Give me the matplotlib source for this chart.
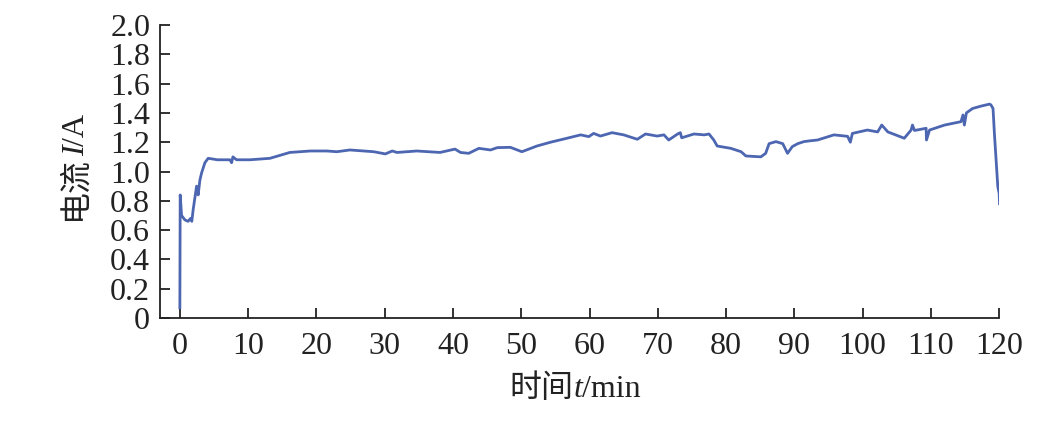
import numpy as np
import matplotlib
matplotlib.use('Agg')
import matplotlib.pyplot as plt

plt.rcParams['font.family'] = ['Liberation Serif', 'Noto Sans CJK SC']

# 时间 t/min 与 电流 I/A
t = [0.0, 0.05, 0.25, 0.73, 1.2, 1.57, 1.75, 1.95, 2.45, 2.68, 2.93, 3.18, 3.67, 4.15,
     5.5, 7.33, 7.58, 7.77, 8.3, 10.27, 13.2, 16.1, 19.1, 21.5, 23.0,
     24.9, 28.4, 30.1, 31.1, 31.8, 34.7, 38.1, 40.3, 41.1, 42.3, 43.8, 45.5, 46.5,
     48.4, 50.1, 52.3, 54.3, 56.7, 58.7, 59.9, 60.6, 61.6, 63.3, 65.0, 67.0, 68.2, 69.9,
     70.9, 71.6, 72.9, 73.3, 73.5, 75.3, 76.8, 77.5, 78.2, 78.7, 80.7, 82.2, 82.9,
     85.1, 85.8, 86.3, 87.3, 88.3, 89.0, 89.7, 90.5, 91.4, 92.4, 93.4,
     95.8, 97.8, 98.2, 98.5, 100.7, 102.2, 102.8, 103.7, 106.1, 107.1, 107.3, 107.6,
     109.3, 109.35, 109.8, 112.0, 114.4, 114.7, 114.9, 115.2, 116.1, 117.4, 118.6,
     118.8, 119.1, 119.3, 119.8, 120.0, 120.05]
current = [0.07, 0.84, 0.70, 0.67, 0.66, 0.68, 0.66, 0.74, 0.90, 0.84, 0.94, 0.99, 1.06, 1.09,
           1.08, 1.08, 1.06, 1.10, 1.08, 1.08, 1.09, 1.13, 1.14, 1.14, 1.135,
           1.147, 1.135, 1.12, 1.14, 1.13, 1.14, 1.13, 1.153, 1.13, 1.124, 1.158, 1.147, 1.163,
           1.165, 1.135, 1.174, 1.20, 1.227, 1.25, 1.238, 1.26, 1.242, 1.265, 1.25, 1.22, 1.256, 1.242,
           1.25, 1.215, 1.256, 1.265, 1.23, 1.256, 1.25, 1.256, 1.215, 1.174, 1.158, 1.135, 1.106,
           1.10, 1.124, 1.19, 1.204, 1.19, 1.124, 1.17, 1.19, 1.204, 1.21, 1.215,
           1.25, 1.24, 1.20, 1.26, 1.283, 1.27, 1.317, 1.27, 1.227, 1.283, 1.317, 1.28,
           1.295, 1.215, 1.283, 1.317, 1.34, 1.386, 1.317, 1.40, 1.43, 1.447, 1.46,
           1.454, 1.43, 1.26, 0.896, 0.85, 0.78]

xlabel_parts = [('时间', 'normal'), ('t', 'italic'), ('/min', 'normal')]
ylabel_parts = [('电流', 'normal'), ('I', 'italic'), ('/A', 'normal')]

fig = plt.figure(figsize=(10.38, 4.22), dpi=100)
ax = fig.add_axes([0.154, 0.2464, 0.8086, 0.6944])

ax.plot(t, current, color='#4d66b1', lw=2.0)

ax.set_xlim(-2.93, 120)
ax.set_ylim(0, 2.0)
ax.set_xticks(np.arange(0, 121, 10))
ax.set_yticks(np.arange(0, 2.01, 0.2))
ax.set_yticklabels(['0'] + ['%.1f' % v for v in np.arange(0.2, 2.01, 0.2)])

for s in ['top', 'right']:
    ax.spines[s].set_visible(False)
for s in ['left', 'bottom']:
    ax.spines[s].set_linewidth(1.3)
    ax.spines[s].set_color('#222222')

ax.tick_params(direction='in', length=7, width=1.3, labelsize=23, colors='#222222')
ax.tick_params(axis='x', pad=10)
ax.tick_params(axis='y', pad=7)


# 混合字体的坐标轴标题（中文 + 斜体变量），按像素位置逐段放置
def mixed_label(parts, cx, cy, vertical=False, size=23):
    r = fig.canvas.get_renderer()
    widths = []
    for s, style in parts:
        tmp = fig.text(0, 0, s, fontsize=size, style=style)
        widths.append(tmp.get_window_extent(renderer=r).width)
        tmp.remove()
    total = sum(widths)
    pos = (cy if vertical else cx) - total / 2
    W, H = fig.bbox.width, fig.bbox.height
    for (s, style), w in zip(parts, widths):
        if vertical:
            fig.text(cx / W, pos / H, s, fontsize=size, style=style, rotation=90,
                     rotation_mode='anchor', ha='left', va='baseline', color='#222222')
        else:
            fig.text(pos / W, cy / H, s, fontsize=size, style=style,
                     ha='left', va='baseline', color='#222222')
        pos += w


mixed_label(xlabel_parts, 575, 422 - 397)
mixed_label(ylabel_parts, 84, 422 - 167, vertical=True)

fig.savefig('out.png', dpi=100)
